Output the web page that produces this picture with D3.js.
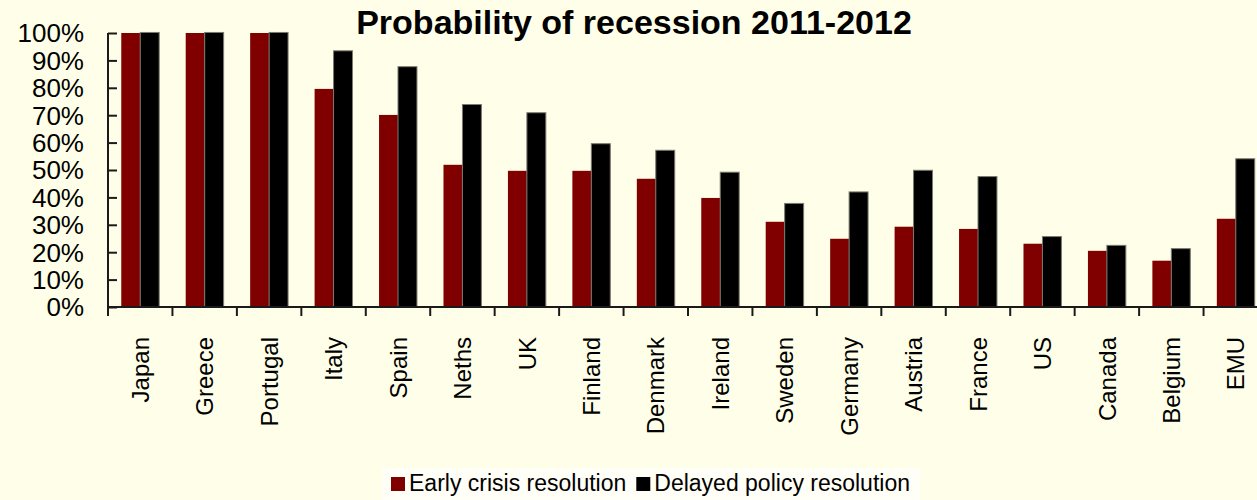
<!DOCTYPE html>
<html>
<head>
<meta charset="utf-8">
<script src="https://cdn.jsdelivr.net/npm/d3@7"></script>
<style>
  body { margin: 0; background: #FFFFE9; }
  text { font-family: "Liberation Sans", Arial, sans-serif; fill: #000; }
</style>
</head>
<body>
<script>
var countries = ["Japan","Greece","Portugal","Italy","Spain","Neths","UK","Finland","Denmark",
                 "Ireland","Sweden","Germany","Austria","France","US","Canada","Belgium","EMU"];
var early   = [100, 100, 100, 79.6, 70.1, 51.9, 49.7, 49.7, 46.8, 39.8, 31.1, 24.9, 29.3, 28.5, 23.1, 20.5, 16.9, 32.2];
var delayed = [100.2, 100.2, 100.2, 93.5, 87.7, 73.9, 70.9, 59.6, 57.2, 49.2, 37.8, 42.0, 49.9, 47.6, 25.7, 22.5, 21.3, 54.1];
var seriesNames = ["Early crisis resolution","Delayed policy resolution"];
var seriesColors = ["#800000","#000000"];
var yTicks = [0,10,20,30,40,50,60,70,80,90,100];

var width = 1257, height = 500;
var plotLeft = 108, plotRight = 1268, plotTop = 33, plotBottom = 307;

var svg = d3.select("body").append("svg")
            .attr("width", width)
            .attr("height", height);

svg.append("rect").attr("width", width).attr("height", height).attr("fill", "#FFFFE9");

var x = d3.scaleBand().domain(countries).range([plotLeft, plotRight]).padding(0);
var x1 = d3.scaleBand().domain([0,1]).range([0, x.bandwidth()]).paddingInner(0).paddingOuter(0.7);
var y = d3.scaleLinear().domain([0,100]).range([plotBottom, plotTop]);

var rows = countries.map(function(c,i){ return {c: c, v: [early[i], delayed[i]]}; });

var groups = svg.selectAll("g.grp")
    .data(rows)
    .enter().append("g")
      .attr("class","grp")
      .attr("transform", function(d){ return "translate(" + x(d.c) + ",0)"; });

groups.selectAll("rect")
    .data(function(d){ return d.v; })
    .enter().append("rect")
      .attr("x", function(d,i){ return x1(i); })
      .attr("width", x1.bandwidth())
      .attr("y", function(d){ return y(d); })
      .attr("height", function(d){ return y(0) - y(d); })
      .attr("fill", function(d,i){ return seriesColors[i]; })
      .attr("stroke", function(d,i){ return i == 1 ? "#7a7a70" : "none"; })
      .attr("stroke-width", 1);

// y axis (ticks point inward)
var yAxis = svg.append("g")
    .attr("transform", "translate(" + plotLeft + ",0)")
    .call(d3.axisRight(y).tickValues(yTicks).tickSize(9).tickFormat(""));
yAxis.select(".domain").attr("stroke", "#1a1a1a").attr("stroke-width", 2)
     .attr("d", "M0," + plotTop + "V" + (plotBottom + 1));
yAxis.selectAll(".tick line").attr("stroke", "#1a1a1a").attr("stroke-width", 2);

svg.selectAll("text.ylab")
    .data(yTicks)
    .enter().append("text")
      .attr("class","ylab")
      .attr("x", 84)
      .attr("y", function(d){ return y(d); })
      .attr("dy", "0.36em")
      .attr("text-anchor","end")
      .attr("font-size", 26)
      .text(function(d){ return d + "%"; });

// x axis
var xAxis = svg.append("g")
    .attr("transform", "translate(0," + plotBottom + ")")
    .call(d3.axisBottom(x).tickSize(0).tickFormat(""));
xAxis.select(".domain").attr("stroke", "#1a1a1a").attr("stroke-width", 2)
     .attr("d", "M" + (plotLeft - 1) + ",0H" + plotRight);

svg.selectAll("line.xtick")
    .data(countries)
    .enter().append("line")
      .attr("class","xtick")
      .attr("x1", function(d){ return x(d); })
      .attr("x2", function(d){ return x(d); })
      .attr("y1", plotBottom)
      .attr("y2", plotBottom + 9)
      .attr("stroke", "#1a1a1a")
      .attr("stroke-width", 2);

svg.selectAll("text.xlab")
    .data(countries)
    .enter().append("text")
      .attr("class","xlab")
      .attr("transform", function(d){ return "translate(" + (x(d) + x.bandwidth()/2) + "," + 337 + ") rotate(-90)"; })
      .attr("dy", "0.36em")
      .attr("text-anchor","end")
      .attr("font-size", 24)
      .text(function(d){ return d; });

// title
svg.append("text")
    .attr("x", 634)
    .attr("y", 34)
    .attr("text-anchor","middle")
    .attr("font-size", 34)
    .attr("font-weight","bold")
    .text("Probability of recession 2011-2012");

// legend
var lg = svg.append("g");
var legBox = lg.append("rect").attr("y", 468).attr("height", 40).attr("fill", "#FFFFF7");
var lx = 391;
seriesNames.forEach(function(name, i){
  lg.append("rect").attr("x", lx).attr("y", 477).attr("width", 14).attr("height", 14)
    .attr("fill", seriesColors[i]);
  var t = lg.append("text").attr("x", lx + 18).attr("y", 491).attr("font-size", 23).text(name);
  lx = lx + 18 + t.node().getComputedTextLength() + 10;
});
legBox.attr("x", 382).attr("width", lx - 382);
</script>
</body>
</html>
